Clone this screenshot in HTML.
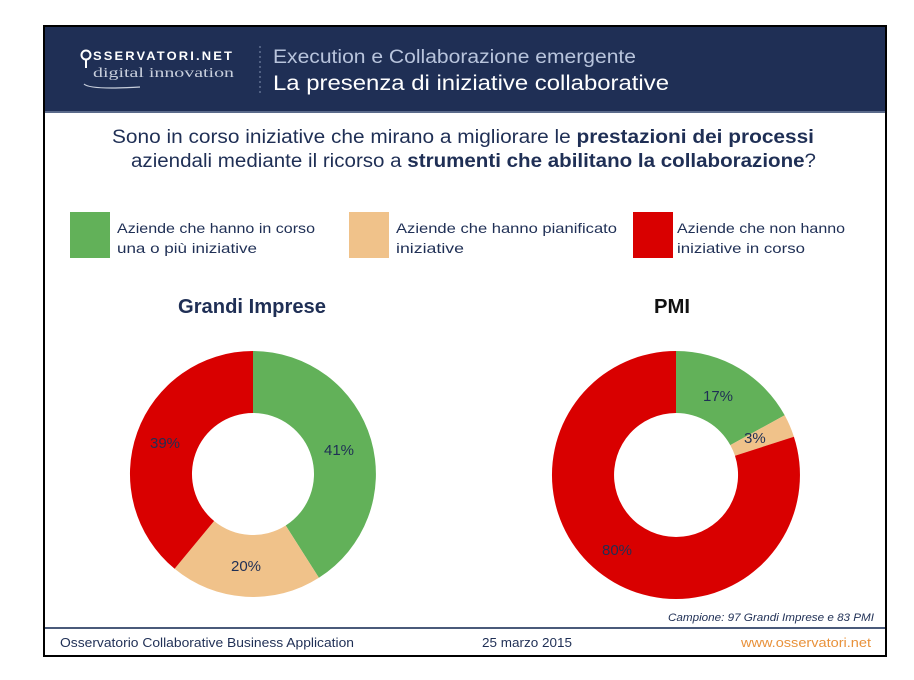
<!DOCTYPE html>
<html><head><meta charset="utf-8"><style>
html,body{margin:0;padding:0;background:#fff;}
svg{display:block;}
text{font-family:"Liberation Sans",sans-serif;}
</style></head><body>
<svg width="914" height="680" viewBox="0 0 914 680" xmlns="http://www.w3.org/2000/svg">
<rect x="0" y="0" width="914" height="680" fill="#fff"/>
<rect x="44" y="26" width="842" height="630" fill="#fff" stroke="#000" stroke-width="2"/>
<rect x="45" y="27" width="840" height="85" fill="#1f2f55"/>
<line x1="45" y1="112" x2="885" y2="112" stroke="#5a6a8a" stroke-width="2"/>
<!-- logo -->
<circle cx="86" cy="55" r="4.5" fill="none" stroke="#fff" stroke-width="2"/>
<line x1="86" y1="60" x2="86" y2="68" stroke="#fff" stroke-width="2"/>
<text x="93" y="60" font-size="12" font-weight="bold" fill="#fff" textLength="141" lengthAdjust="spacingAndGlyphs" letter-spacing="2">SSERVATORI.NET</text>
<text x="93" y="77" font-size="14" fill="#c8cfdc" textLength="141" lengthAdjust="spacingAndGlyphs" style="font-family:'Liberation Serif',serif">digital innovation</text>
<path d="M84 84 Q90 90 140 87" fill="none" stroke="#c8cfdc" stroke-width="1.2"/>
<line x1="260" y1="46" x2="260" y2="96" stroke="#8090b0" stroke-width="1" stroke-dasharray="2,3"/>
<text x="273" y="63" font-size="19" fill="#b8c4dc" textLength="363" lengthAdjust="spacingAndGlyphs">Execution e Collaborazione emergente</text>
<text x="273" y="90" font-size="21" fill="#fff" textLength="396" lengthAdjust="spacingAndGlyphs">La presenza di iniziative collaborative</text>
<!-- question -->
<text x="112" y="143" font-size="19" fill="#1f2f55" textLength="702" lengthAdjust="spacingAndGlyphs">Sono in corso iniziative che mirano a migliorare le <tspan font-weight="bold">prestazioni dei processi</tspan></text>
<text x="131" y="167" font-size="19" fill="#1f2f55" textLength="685" lengthAdjust="spacingAndGlyphs">aziendali mediante il ricorso a <tspan font-weight="bold">strumenti che abilitano la collaborazione</tspan>?</text>
<!-- legend -->
<rect x="70" y="212" width="40" height="46" fill="#62b159"/>
<text x="117" y="233" font-size="14" fill="#1f2f55" textLength="198" lengthAdjust="spacingAndGlyphs">Aziende che hanno in corso</text>
<text x="117" y="253" font-size="14" fill="#1f2f55" textLength="140" lengthAdjust="spacingAndGlyphs">una o più iniziative</text>
<rect x="349" y="212" width="40" height="46" fill="#f0c28a"/>
<text x="396" y="233" font-size="14" fill="#1f2f55" textLength="221" lengthAdjust="spacingAndGlyphs">Aziende che hanno pianificato</text>
<text x="396" y="253" font-size="14" fill="#1f2f55" textLength="68" lengthAdjust="spacingAndGlyphs">iniziative</text>
<rect x="633" y="212" width="40" height="46" fill="#d90000"/>
<text x="677" y="233" font-size="14" fill="#1f2f55" textLength="168" lengthAdjust="spacingAndGlyphs">Aziende che non hanno</text>
<text x="677" y="253" font-size="14" fill="#1f2f55" textLength="128" lengthAdjust="spacingAndGlyphs">iniziative in corso</text>
<!-- titles -->
<text x="178" y="313" font-size="20" font-weight="bold" fill="#1f2f55" textLength="148" lengthAdjust="spacingAndGlyphs">Grandi Imprese</text>
<text x="654" y="313" font-size="20" font-weight="bold" fill="#111" textLength="36" lengthAdjust="spacingAndGlyphs">PMI</text>
<!-- left donut -->
<path d="M253 351 A123 123 0 0 1 318.9 577.8 L285.7 525.5 A61 61 0 0 0 253 413 Z" fill="#62b159"/>
<path d="M318.9 577.8 A123 123 0 0 1 174.6 568.8 L214.1 521.0 A61 61 0 0 0 285.7 525.5 Z" fill="#f0c28a"/>
<path d="M174.6 568.8 A123 123 0 0 1 253 351 L253 413 A61 61 0 0 0 214.1 521.0 Z" fill="#d90000"/>
<text x="324" y="455" font-size="15" fill="#1f2f55">41%</text>
<text x="231" y="571" font-size="15" fill="#1f2f55">20%</text>
<text x="150" y="448" font-size="15" fill="#1f2f55">39%</text>
<!-- right donut -->
<path d="M676 351 A124 124 0 0 1 784.7 415.3 L730.3 445.1 A62 62 0 0 0 676 413 Z" fill="#62b159"/>
<path d="M784.7 415.3 A124 124 0 0 1 793.9 436.7 L735.0 455.8 A62 62 0 0 0 730.3 445.1 Z" fill="#f0c28a"/>
<path d="M793.9 436.7 A124 124 0 1 1 676 351 L676 413 A62 62 0 1 0 735.0 455.8 Z" fill="#d90000"/>
<text x="703" y="401" font-size="15" fill="#1f2f55">17%</text>
<text x="744" y="443" font-size="15" fill="#1f2f55">3%</text>
<text x="602" y="555" font-size="15" fill="#1f2f55">80%</text>
<!-- footer -->
<text x="874" y="621" font-size="11" font-style="italic" fill="#1f2f55" text-anchor="end" textLength="206" lengthAdjust="spacingAndGlyphs">Campione: 97 Grandi Imprese e  83 PMI</text>
<line x1="45" y1="628" x2="885" y2="628" stroke="#4a5a7a" stroke-width="2"/>
<text x="60" y="647" font-size="13" fill="#1f2f55" textLength="294" lengthAdjust="spacingAndGlyphs">Osservatorio Collaborative Business Application</text>
<text x="482" y="647" font-size="13" fill="#1f2f55" textLength="90" lengthAdjust="spacingAndGlyphs">25 marzo 2015</text>
<text x="741" y="647" font-size="13" fill="#e8913a" textLength="130" lengthAdjust="spacingAndGlyphs">www.osservatori.net</text>
</svg>
</body></html>
